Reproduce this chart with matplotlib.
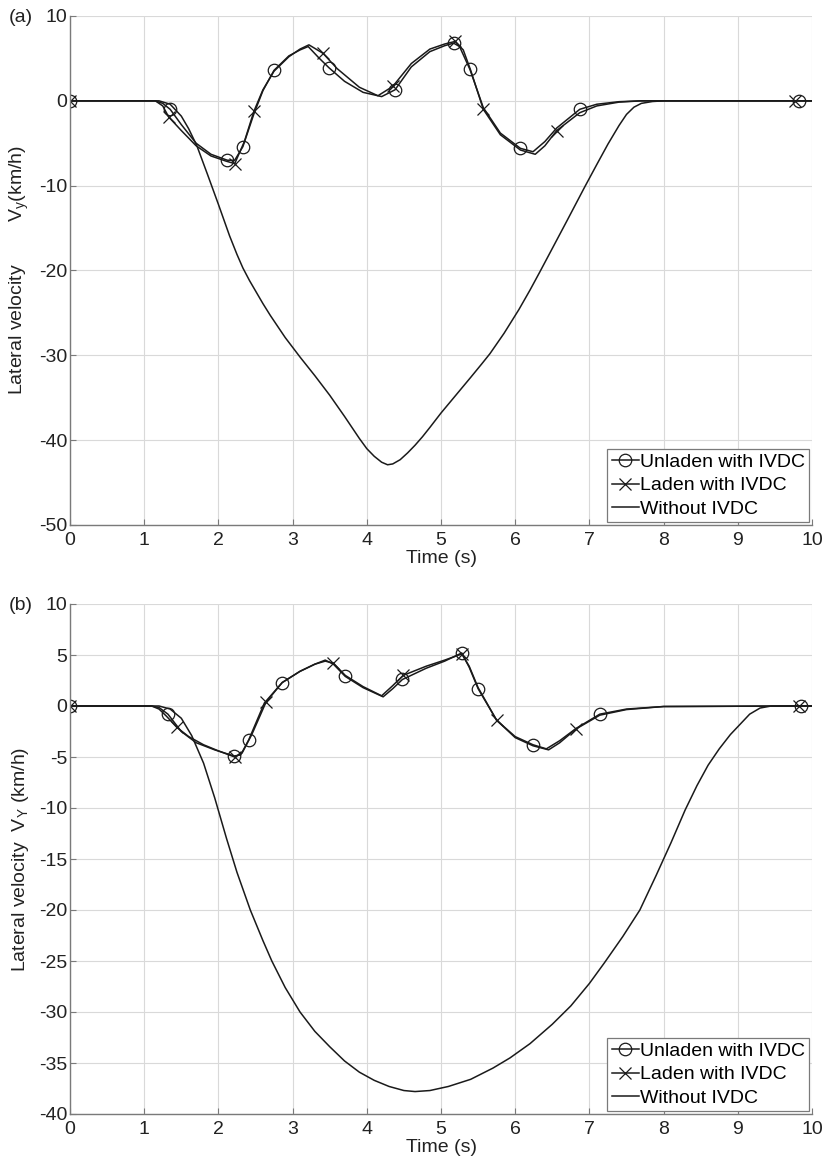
import numpy as np
import matplotlib
matplotlib.use("Agg")
import matplotlib.pyplot as plt

plt.rcParams['font.family'] = ['Liberation Sans', 'DejaVu Sans']
plt.rcParams['mathtext.default'] = 'regular'
plt.rcParams['axes.unicode_minus'] = False

# ---------------- (a) ----------------
a_unl_t = [0, 1.15, 1.25, 1.35, 1.5, 1.7, 1.9, 2.12, 2.22, 2.33, 2.48, 2.6, 2.75, 2.95, 3.1, 3.21, 3.35, 3.49, 3.7, 3.95, 4.2, 4.38, 4.6, 4.85, 5.05, 5.17, 5.25, 5.39, 5.57, 5.8, 6.07, 6.24, 6.4, 6.56, 6.87, 7.1, 7.4, 7.7, 8.0, 9.82, 10]
a_unl_v = [0, 0, -0.3, -1.0, -2.8, -5.0, -6.3, -7.0, -7.0, -5.4, -1.5, 1.2, 3.6, 5.3, 6.0, 6.4, 5.1, 3.9, 2.3, 1.0, 0.5, 1.3, 4.0, 5.8, 6.5, 6.8, 6.4, 3.7, -0.8, -3.8, -5.6, -6.0, -4.8, -3.2, -1.0, -0.4, -0.1, 0, 0, 0, 0]
a_unl_mk = [0, 1.35, 2.12, 2.33, 2.75, 3.49, 4.38, 5.17, 5.39, 6.07, 6.87, 9.82]

a_lad_t = [0, 1.15, 1.25, 1.33, 1.5, 1.7, 1.9, 2.1, 2.22, 2.35, 2.48, 2.6, 2.75, 2.95, 3.1, 3.22, 3.41, 3.6, 3.9, 4.15, 4.35, 4.6, 4.85, 5.05, 5.19, 5.3, 5.4, 5.57, 5.8, 6.07, 6.27, 6.4, 6.56, 6.87, 7.1, 7.4, 7.7, 8.0, 9.77, 10]
a_lad_v = [0, 0, -0.6, -1.9, -3.5, -5.3, -6.5, -7.1, -7.4, -4.8, -1.2, 1.3, 3.5, 5.2, 6.1, 6.6, 5.6, 3.8, 1.6, 0.6, 1.7, 4.4, 6.1, 6.7, 7.0, 6.0, 3.6, -1.0, -4.0, -5.8, -6.3, -5.3, -3.5, -1.4, -0.6, -0.15, 0, 0, 0, 0]
a_lad_mk = [0, 1.33, 2.22, 2.48, 3.41, 4.35, 5.19, 5.57, 6.56, 9.77]

a_wo_t = [0, 1.2, 1.35, 1.5, 1.6, 1.71, 1.85, 2.0, 2.15, 2.25, 2.33, 2.42, 2.5, 2.6, 2.7, 2.9, 3.1, 3.3, 3.5, 3.7, 3.9, 4.0, 4.1, 4.2, 4.28, 4.35, 4.45, 4.55, 4.65, 4.75, 4.85, 5.0, 5.2, 5.4, 5.55, 5.66, 5.85, 6.05, 6.2, 6.33, 6.5, 6.7, 6.94, 7.1, 7.25, 7.4, 7.5, 7.6, 7.7, 7.85, 8.0, 10]
a_wo_v = [0, 0, -0.4, -1.8, -3.3, -5.3, -8.6, -12.2, -15.9, -18.1, -19.7, -21.2, -22.4, -23.9, -25.3, -27.9, -30.2, -32.4, -34.7, -37.2, -39.8, -41.0, -41.9, -42.6, -42.9, -42.8, -42.3, -41.5, -40.6, -39.6, -38.5, -36.8, -34.7, -32.6, -31.0, -29.8, -27.4, -24.6, -22.3, -20.2, -17.4, -14.1, -10.1, -7.5, -5.1, -2.9, -1.6, -0.75, -0.3, -0.08, 0, 0]

# ---------------- (b) ----------------
b_unl_t = [0, 1.1, 1.2, 1.32, 1.5, 1.7, 1.95, 2.21, 2.3, 2.41, 2.62, 2.86, 3.1, 3.3, 3.44, 3.55, 3.71, 3.95, 4.22, 4.35, 4.48, 4.8, 5.05, 5.28, 5.38, 5.5, 5.75, 6.0, 6.24, 6.42, 6.6, 6.82, 7.14, 7.5, 8.0, 9.85, 10]
b_unl_v = [0, 0, -0.15, -0.8, -2.5, -3.6, -4.3, -4.9, -4.8, -3.3, 0.3, 2.3, 3.4, 4.1, 4.5, 4.1, 2.9, 1.8, 0.9, 1.7, 2.6, 3.7, 4.4, 5.2, 3.8, 1.7, -1.4, -3.0, -3.8, -4.2, -3.4, -2.2, -0.8, -0.3, -0.05, 0, 0]
b_unl_mk = [0, 1.32, 2.21, 2.41, 2.86, 3.71, 4.48, 5.28, 5.5, 6.24, 7.14, 9.85]

b_lad_t = [0, 1.1, 1.2, 1.3, 1.44, 1.6, 1.8, 2.0, 2.22, 2.32, 2.45, 2.64, 2.86, 3.1, 3.3, 3.44, 3.55, 3.71, 3.95, 4.2, 4.35, 4.49, 4.8, 5.05, 5.28, 5.38, 5.5, 5.75, 6.0, 6.24, 6.45, 6.6, 6.82, 7.14, 7.5, 8.0, 9.82, 10]
b_lad_v = [0, 0, -0.3, -1.0, -2.1, -3.0, -3.8, -4.4, -5.0, -4.6, -2.8, 0.35, 2.3, 3.4, 4.1, 4.4, 4.2, 3.0, 1.9, 1.0, 2.0, 3.0, 3.9, 4.5, 5.1, 3.9, 1.8, -1.4, -3.1, -3.9, -4.3, -3.6, -2.25, -0.9, -0.35, -0.05, 0, 0]
b_lad_mk = [0, 1.44, 2.22, 2.64, 3.55, 4.49, 5.28, 5.75, 6.82, 9.82]

b_wo_t = [0, 1.2, 1.35, 1.5, 1.64, 1.8, 1.95, 2.11, 2.25, 2.43, 2.6, 2.72, 2.9, 3.1, 3.3, 3.5, 3.7, 3.9, 4.1, 4.3, 4.5, 4.65, 4.85, 5.1, 5.4, 5.7, 5.93, 6.2, 6.5, 6.75, 7.0, 7.2, 7.45, 7.68, 7.9, 8.1, 8.29, 8.45, 8.6, 8.75, 8.9, 9.03, 9.16, 9.3, 9.45, 10]
b_wo_v = [0, 0, -0.3, -1.2, -2.9, -5.6, -9.0, -13, -16.3, -20, -23, -25, -27.6, -30, -31.9, -33.4, -34.8, -35.9, -36.7, -37.3, -37.7, -37.8, -37.7, -37.3, -36.6, -35.5, -34.5, -33.1, -31.2, -29.4, -27.2, -25.2, -22.6, -20, -16.6, -13.4, -10.2, -7.8, -5.8, -4.2, -2.8, -1.8, -0.8, -0.2, 0, 0]

legend_labels = ["Unladen with IVDC", "Laden with IVDC", "Without IVDC"]
panel_labels = ["(a)", "(b)"]
ylabels = ["Lateral velocity        V$_y$(km/h)", "Lateral velocity  V$_Y$ (km/h)"]
xlabel = "Time (s)"
yticks_a = [10, 0, -10, -20, -30, -40, -50]
yticks_b = [10, 5, 0, -5, -10, -15, -20, -25, -30, -35, -40]

W, H = 825, 1161
fig = plt.figure(figsize=(W / 100, H / 100), dpi=100)

LC = '#1a1a1a'
TC = '#222222'
FS = 14


def panel(rect, unl, lad, wo, yticks, ylim, ylabel, plabel):
    ax = fig.add_axes(rect)
    ut, uv, um = unl
    lt, lv, lm = lad
    wt, wv = wo
    ut = np.array(ut); lt = np.array(lt)
    ui = [int(np.argmin(np.abs(ut - m))) for m in um]
    li = [int(np.argmin(np.abs(lt - m))) for m in lm]
    ax.plot(ut, uv, color=LC, lw=1.1, marker='o', markevery=ui, ms=9,
            mfc='none', mec=LC, mew=0.9, label=legend_labels[0])
    ax.plot(lt, lv, color=LC, lw=1.1, marker='x', markevery=li, ms=8,
            mec=LC, mew=0.9, label=legend_labels[1])
    ax.plot(wt, wv, color=LC, lw=1.1, label=legend_labels[2])
    ax.set_xlim(0, 10)
    ax.set_ylim(*ylim)
    ax.set_xticks(range(0, 11))
    ax.set_yticks(yticks)
    ax.grid(True, color='#d9d9d9', lw=0.8)
    ax.set_axisbelow(True)
    for s in ['top', 'right']:
        ax.spines[s].set_visible(False)
    for s in ['left', 'bottom']:
        ax.spines[s].set_color('#7a7a7a')
        ax.spines[s].set_linewidth(1.0)
    ax.tick_params(direction='in', length=4, color='#7a7a7a', labelsize=FS,
                   labelcolor=TC)
    ax.tick_params(axis='x', pad=5)
    ax.tick_params(axis='y', pad=2)
    ax.set_xlabel(xlabel, fontsize=FS, labelpad=1, color=TC)
    ax.set_ylabel(ylabel, fontsize=FS, color=TC)
    ax.yaxis.set_label_coords(-0.053, 0.5)
    leg = ax.legend(loc='lower right', fontsize=FS, frameon=True, fancybox=False,
                    edgecolor='#7a7a7a', handlelength=1.4, handletextpad=0.05,
                    borderpad=0.22, labelspacing=0.3, borderaxespad=0.15,
                    framealpha=1)
    leg.get_frame().set_linewidth(0.9)
    top_px = (1 - rect[1] - rect[3]) * H
    fig.text(9 / W, 1 - (top_px + 1) / H, plabel, fontsize=FS, va='center', ha='left',
             color=TC)
    return ax


panel([70 / W, 1 - 525 / H, 742 / W, 509 / H],
      (a_unl_t, a_unl_v, a_unl_mk), (a_lad_t, a_lad_v, a_lad_mk), (a_wo_t, a_wo_v),
      yticks_a, (-50, 10), ylabels[0], panel_labels[0])
panel([70 / W, 1 - 1114 / H, 742 / W, 510 / H],
      (b_unl_t, b_unl_v, b_unl_mk), (b_lad_t, b_lad_v, b_lad_mk), (b_wo_t, b_wo_v),
      yticks_b, (-40, 10), ylabels[1], panel_labels[1])

fig.savefig('out.png', dpi=100, facecolor='white')
